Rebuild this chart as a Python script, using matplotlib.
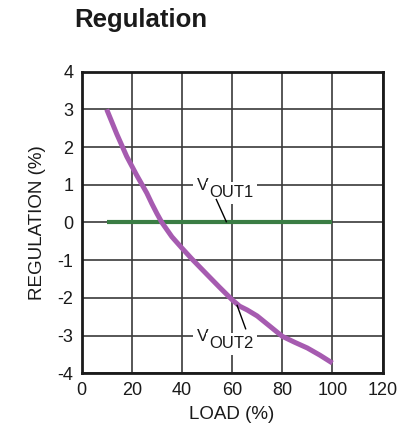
import matplotlib
matplotlib.use('Agg')
import matplotlib.pyplot as plt

plt.rcParams['font.family'] = ['Liberation Sans', 'DejaVu Sans']
plt.rcParams['axes.unicode_minus'] = False

# data
load_vout2 = [10, 14, 18, 22, 26, 28, 30, 32, 36, 40, 44, 50, 55, 60, 63, 66, 70, 75, 80, 85, 90, 95, 100]
reg_vout2 = [3.0, 2.35, 1.75, 1.25, 0.78, 0.5, 0.24, 0.0, -0.38, -0.68, -0.97, -1.38, -1.72, -2.05, -2.22, -2.32, -2.48, -2.75, -3.02, -3.18, -3.33, -3.52, -3.73]
load_vout1 = [10, 100]
reg_vout1 = [0, 0]

x_ticks = [0, 20, 40, 60, 80, 100, 120]
y_ticks = [-4, -3, -2, -1, 0, 1, 2, 3, 4]

fig = plt.figure(figsize=(4.04, 4.32), dpi=100)
ax = fig.add_axes([0.202, 0.136, 0.745, 0.698])

ax.plot(load_vout1, reg_vout1, color='#3a7d44', linewidth=3.0, solid_capstyle='butt', zorder=3)
ax.plot(load_vout2, reg_vout2, color='#a65bb0', linewidth=3.6, solid_capstyle='butt', zorder=4)

ax.set_xlim(0, 120)
ax.set_ylim(-4, 4)
ax.set_xticks(x_ticks)
ax.set_yticks(y_ticks)
ax.tick_params(length=0, labelsize=13, colors='#1a1a1a', pad=6)
ax.grid(True, color='#3a3a3a', linewidth=1.2, zorder=1)
for s in ax.spines.values():
    s.set_linewidth(2.0)
    s.set_color('#1a1a1a')

ax.set_xlabel('LOAD (%)', fontsize=13.5, color='#1a1a1a', labelpad=5)
ax.set_ylabel('REGULATION (%)', fontsize=13.5, color='#1a1a1a', labelpad=8)

# curve labels: V plus a lowered subscript, white box hides the grid
box = dict(facecolor='white', edgecolor='none', pad=2.5)
for name, pos in [('OUT1', (45.85, 0.855)), ('OUT2', (45.95, -3.15))]:
    ax.text(pos[0], pos[1], 'V', fontsize=12.5, ha='left', va='baseline',
            bbox=box, zorder=5, color='#1a1a1a')
    ax.annotate(name, xy=pos, xytext=(9, -5), textcoords='offset points',
                fontsize=12, ha='left', va='baseline', bbox=box, zorder=5,
                color='#1a1a1a')
ax.plot([53.7, 57.7], [0.61, 0.02], color='black', linewidth=1.0, zorder=6)
ax.plot([65.4, 62.0], [-2.82, -2.2], color='black', linewidth=1.0, zorder=6)

fig.text(0.183, 0.953, 'Regulation', fontsize=18.5, fontweight='bold', color='#1a1a1a', ha='left', va='center')

fig.savefig('out.png', dpi=100)
